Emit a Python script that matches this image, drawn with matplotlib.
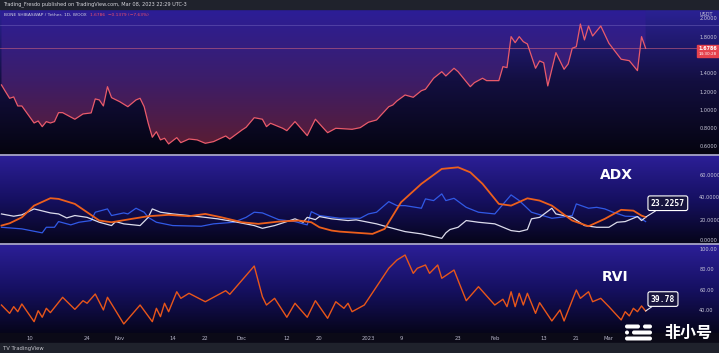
import numpy as np
import matplotlib
matplotlib.use("Agg")
import matplotlib.pyplot as plt
from matplotlib.colors import LinearSegmentedColormap
from matplotlib.patches import Rectangle, FancyBboxPatch
from matplotlib.transforms import blended_transform_factory

# x values are days counted from Oct 10 2022 (daily chart)
price_days = [-7, -6, -5, -4, -3, -2, -1, 1, 2, 3, 4, 5, 6, 7, 8,
              11, 13, 15, 16, 17, 18, 19, 20,
              22, 24, 26, 27, 28, 29, 30, 31, 32, 33, 34,
              36, 37, 39, 41, 43, 45, 48, 49,
              52, 53, 55, 57, 58, 59, 61, 62, 63,
              65, 67, 68, 70, 72, 73, 75, 79, 81, 83, 85,
              88, 89, 90, 92, 94, 96, 97, 99, 101, 102,
              104, 105, 106, 108, 109, 111, 112, 115, 116, 117,
              118, 119, 120, 121, 122, 124, 125, 126, 127, 129,
              131, 132, 133, 134, 135, 136, 137, 138, 140, 142,
              145, 147, 149, 150, 151]
price_vals = [1.278, 1.204, 1.132, 1.147, 1.048, 1.048, 0.986, 0.862, 0.884, 0.822, 0.877, 0.862, 0.877, 0.975, 0.975,
              0.903, 0.961, 0.972, 1.125, 1.114, 1.048, 1.259, 1.139,
              1.095, 1.040, 1.114, 1.132, 1.040, 0.859, 0.706, 0.767, 0.677, 0.695, 0.633,
              0.702, 0.647, 0.687, 0.677, 0.640, 0.658, 0.720, 0.687,
              0.786, 0.815, 0.920, 0.903, 0.822, 0.859, 0.822, 0.804, 0.778,
              0.877, 0.775, 0.724, 0.903, 0.804, 0.756, 0.804, 0.793, 0.811, 0.870, 0.895,
              1.040, 1.059, 1.103, 1.168, 1.143, 1.215, 1.231, 1.351, 1.423, 1.376,
              1.460, 1.423, 1.368, 1.259, 1.303, 1.351, 1.325, 1.325, 1.478, 1.467,
              1.806, 1.740, 1.806, 1.751, 1.726, 1.460, 1.540, 1.521, 1.267, 1.631,
              1.449, 1.507, 1.679, 1.696, 1.944, 1.770, 1.922, 1.813, 1.922, 1.733,
              1.559, 1.543, 1.434, 1.806, 1.6786]

adx_days = [-7, -5, -2, 1, 5, 7, 11, 14, 17, 20,
            25, 29, 34, 39, 43, 47, 52, 56, 61, 66,
            69, 71, 74, 76, 84, 87, 91, 96, 101, 105,
            108, 111, 115, 118, 122, 125, 128, 133, 137, 141,
            145, 148, 150, 151]
adx_vals = [15.8, 17.8, 23.0, 33.3, 39.8, 39.2, 34.8, 27.5, 20.2, 18.7,
            21.7, 24.0, 25.2, 24.0, 26.0, 23.0, 18.7, 17.3, 19.3, 20.2,
            18.7, 14.3, 11.4, 10.5, 8.5, 12.9, 36.2, 52.4, 65.5, 66.9,
            62.5, 52.4, 34.8, 33.3, 39.7, 37.7, 33.3, 20.2, 15.2, 21.7,
            29.6, 28.9, 24.5, 23.2]

plus_di_days = [-7, -2, 3, 4, 6, 7, 10, 12, 15, 16,
                19, 20, 23, 24, 26, 28, 29, 31, 35, 42,
                45, 50, 53, 55, 57, 61, 65, 67, 68, 69,
                71, 76, 81, 83, 85, 88, 90, 92, 96, 97,
                99, 101, 102, 104, 107, 110, 114, 118, 120, 123,
                128, 130, 133, 134, 137, 139, 141, 143, 146, 149,
                151]
plus_di_vals = [14.3, 12.9, 9.4, 14.3, 14.3, 19.3, 16.4, 18.7, 20.2, 27.5,
                30.4, 24.6, 26.9, 26.0, 31.0, 27.5, 23.0, 18.7, 15.8, 15.2,
                17.3, 18.7, 23.0, 27.5, 26.9, 21.0, 19.3, 17.3, 16.4, 28.0,
                24.6, 22.2, 22.2, 26.0, 27.5, 36.8, 33.3, 33.3, 31.0, 39.2,
                37.7, 43.6, 37.7, 39.7, 31.8, 27.5, 26.0, 42.7, 37.7, 27.5,
                22.2, 23.0, 24.6, 34.8, 31.0, 31.8, 30.4, 27.5, 24.0, 23.7,
                19.3]

minus_di_days = [-7, -4, -2, 1, 5, 7, 9, 11, 14, 17,
                 20, 21, 23, 27, 29, 30, 32, 35, 39, 43,
                 46, 50, 55, 57, 60, 63, 65, 67, 68, 70,
                 71, 74, 78, 80, 85, 88, 92, 96, 101, 102,
                 103, 105, 107, 110, 114, 118, 120, 122, 123, 125,
                 128, 129, 133, 136, 139, 142, 144, 146, 149, 150,
                 151]
minus_di_vals = [26.0, 24.0, 25.2, 30.4, 26.9, 26.0, 22.5, 24.6, 23.0, 18.7,
                 15.8, 19.3, 17.3, 15.8, 23.0, 30.4, 27.5, 26.0, 24.6, 23.0,
                 21.7, 19.3, 15.8, 13.4, 15.8, 19.3, 21.7, 18.7, 23.0, 21.0,
                 23.7, 21.7, 20.2, 20.8, 17.3, 14.3, 10.5, 8.5, 4.6, 9.4,
                 12.3, 14.3, 20.2, 18.7, 17.3, 11.4, 10.5, 12.3, 21.7, 23.0,
                 31.0, 26.0, 23.0, 15.8, 14.3, 14.3, 18.7, 19.3, 23.7, 20.2,
                 23.0]

rvi_days = [-7, -5, -4, -3, -2, 1, 2, 3, 4, 5,
            8, 11, 13, 14, 16, 18, 19, 23, 27, 30,
            31, 32, 33, 34, 36, 37, 39, 43, 48, 49,
            55, 57, 58, 60, 63, 65, 68, 70, 73, 75,
            77, 78, 79, 82, 88, 90, 92, 94, 95, 97,
            98, 100, 101, 104, 107, 110, 114, 116, 117, 118,
            119, 120, 121, 122, 124, 125, 128, 130, 131, 134,
            135, 137, 138, 140, 142, 145, 146, 147, 148, 149,
            150, 151]
rvi_vals = [45.6, 37.5, 44.0, 39.1, 46.6, 29.4, 40.1, 33.7, 42.4, 38.2,
            53.1, 41.4, 49.8, 47.3, 56.3, 40.8, 53.1, 27.2, 45.6, 29.4,
            42.4, 34.3, 47.3, 39.1, 58.5, 52.1, 57.0, 48.8, 59.5, 56.0,
            83.5, 53.7, 45.6, 52.1, 33.7, 47.3, 33.7, 49.8, 32.7, 48.8,
            42.4, 47.3, 39.1, 45.6, 81.3, 89.3, 94.2, 76.4, 81.3, 84.5,
            76.4, 84.5, 71.6, 79.6, 49.8, 63.4, 45.6, 51.2, 44.0, 58.5,
            44.0, 57.0, 45.6, 57.0, 37.5, 47.9, 30.1, 40.8, 30.1, 60.2,
            52.1, 58.5, 48.8, 52.1, 44.0, 31.1, 39.1, 35.0, 42.4, 39.1,
            44.7, 39.78]

tick_days = [0, 14, 22, 35, 43, 52, 63, 71, 83, 91, 105, 114, 126, 134, 142]
tick_labels = ["10", "24", "Nov", "14", "22", "Dec", "12", "20", "2023",
               "9", "23", "Feb", "13", "21", "Mar"]

price_ticks = [0.6, 0.8, 1.0, 1.2, 1.4, 1.8, 2.0]
adx_ticks = [0, 20, 40, 60]
rvi_ticks = [40, 60, 80, 100]
last_price = 1.6786
day_high = 1.933
adx_last = 23.2257
rvi_last = 39.78

W, H = 719, 353
XLIM = (-7.36, 169.0)

fig = plt.figure(figsize=(W / 100, H / 100), dpi=100, facecolor="#0b0a17")


def panel(top, bottom):
    ax = fig.add_axes([0, 1 - bottom / H, 1, (bottom - top) / H])
    ax.set_facecolor("none")
    for s in ax.spines.values():
        s.set_visible(False)
    ax.set_xticks([])
    ax.set_yticks([])
    return ax


def gradient(ax, colors, extent=(0, 1, 0, 1), transform=None, zorder=0):
    cmap = LinearSegmentedColormap.from_list("g", colors)
    grad = np.linspace(0, 1, 256).reshape(-1, 1)
    kw = {}
    if transform is not None:
        kw["transform"] = transform
    return ax.imshow(grad, cmap=cmap, aspect="auto", extent=extent,
                     origin="lower", zorder=zorder, interpolation="bicubic", **kw)


def right_labels(ax, ticks, fmt):
    tr = blended_transform_factory(ax.transAxes, ax.transData)
    for t in ticks:
        ax.text(0.9725, t, fmt.format(t), transform=tr, ha="left", va="center",
                fontsize=3.6, color="#c9c8da")


# ---- price panel
ax_p = panel(9, 154)
gradient(ax_p, ["#050410", "#130f40", "#2b2296"], transform=ax_p.transAxes)
ylo, yhi = 0.523, 2.108
above = ax_p.fill_between(price_days, price_vals, yhi, facecolor="none", edgecolor="none")
im = gradient(ax_p, ["#5e1c2c", "#3d1d68", "#2b1e98"], extent=(XLIM[0], XLIM[1], ylo, yhi), zorder=1)
im.set_clip_path(above.get_paths()[0], transform=ax_p.transData)
ax_p.plot(price_days, price_vals, color="#ea5b6b", lw=0.9, zorder=3)
ax_p.axhline(last_price, color="#c8607e", lw=0.6, alpha=0.7, zorder=2)
ax_p.axhline(day_high, color="#8c7fd0", lw=0.5, alpha=0.5, zorder=2)
ax_p.set_xlim(XLIM)
ax_p.set_ylim(ylo, yhi)
right_labels(ax_p, price_ticks, "{:.4f}")

# ---- ADX panel
ax_a = panel(155, 243)
gradient(ax_a, ["#06051a", "#161062", "#2c1f98"], transform=ax_a.transAxes)
ax_a.plot(plus_di_days, plus_di_vals, color="#3159e6", lw=0.9, zorder=2)
ax_a.plot(minus_di_days, minus_di_vals, color="#dcdcec", lw=0.9, zorder=3)
ax_a.plot(adx_days, adx_vals, color="#ec5f1c", lw=1.3, zorder=4)
ax_a.set_xlim(XLIM)
ax_a.set_ylim(0.5, 77.7)
right_labels(ax_a, adx_ticks[1:], "{:.4f}")
ax_a.text(0.9725, 0.6, "0.0000", ha="left", va="bottom", fontsize=3.6, color="#c9c8da",
          transform=blended_transform_factory(ax_a.transAxes, ax_a.transData))
ax_a.text(0.858, 0.77, "ADX", transform=ax_a.transAxes, ha="center", va="center",
          fontsize=10, fontweight="bold", color="white")
ax_a.annotate(f"{adx_last:.4f}", xy=(adx_days[-1], adx_vals[-1]), xytext=(16, 10),
              textcoords="offset points", ha="center", va="center", fontsize=5.8,
              fontweight="bold", family="DejaVu Sans Mono", color="white", zorder=6,
              bbox=dict(boxstyle="round,pad=0.35,rounding_size=0.25", fc="#17143e", ec="white", lw=0.8),
              arrowprops=dict(arrowstyle="-", color="#e6e6f2", lw=0.8, shrinkA=0, shrinkB=0))

# ---- RVI panel
ax_r = panel(244, 333)
gradient(ax_r, ["#06051a", "#161062", "#2c1f98"], transform=ax_r.transAxes)
ax_r.plot(rvi_days, rvi_vals, color="#e8561a", lw=1.0, zorder=3)
ax_r.set_xlim(XLIM)
ax_r.set_ylim(18.4, 104.9)
right_labels(ax_r, rvi_ticks, "{:.2f}")
ax_r.text(0.855, 0.625, "RVI", transform=ax_r.transAxes, ha="center", va="center",
          fontsize=10, fontweight="bold", color="white")
ax_r.annotate(f"{rvi_last:.2f}", xy=(rvi_days[-1], rvi_vals[-1]), xytext=(12.5, 8.6),
              textcoords="offset points", ha="center", va="center", fontsize=5.8,
              fontweight="bold", family="DejaVu Sans Mono", color="white", zorder=6,
              bbox=dict(boxstyle="round,pad=0.35,rounding_size=0.25", fc="#17143e", ec="white", lw=0.8),
              arrowprops=dict(arrowstyle="-", color="#e6e6f2", lw=0.8, shrinkA=0, shrinkB=0))
ax_r.set_xticks(tick_days, tick_labels)
ax_r.tick_params(axis="x", length=0, pad=2.5, labelsize=3.8, labelcolor="#b4b3c6")

# ---- overlay in pixel coordinates: bars, separators, tags, watermark
ov = fig.add_axes([0, 0, 1, 1], zorder=10)
ov.set_xlim(0, W)
ov.set_ylim(H, 0)
ov.axis("off")
ov.set_facecolor("none")

ov.add_patch(Rectangle((0, 0), W, 9, color="#1f222c"))
ov.text(3, 4.6, "Trading_Fresdo published on TradingView.com, Mar 08, 2023 22:29 UTC-3",
        fontsize=3.6, color="#d6d6dc", va="center")
ov.add_patch(Rectangle((0, 343), W, 10, color="#1f222c"))
ov.text(3, 348.5, "TV TradingView", fontsize=3.8, color="#c8c8d0", va="center")

ov.text(4, 14.5, "BONE SHIBASWAP / Tether, 1D, WOOX", fontsize=3.2, color="#cfcfe0", va="center")
ov.text(90, 14.5, "1.6786  \u22120.1379 (\u22127.63%)", fontsize=3.2, color="#f0506a", va="center")
ov.text(700, 14.5, "USDT", fontsize=3.6, color="#c9c8da", va="center")

ov.plot([0, W], [154.5, 154.5], color="#a7a5c6", lw=1.3)
ov.plot([0, W], [243.6, 243.6], color="#a7a5c6", lw=1.3)

ov.add_patch(Rectangle((697, 45), 22, 12, color="#e5424d"))
ov.text(708, 48.3, "1.6786", fontsize=3.5, color="white", ha="center", va="center", fontweight="bold")
ov.text(708, 54, "14:30:28", fontsize=3.0, color="white", ha="center", va="center")

# watermark logo
for x0, x1, yb in [(625, 640, 324.5), (643, 652, 324.5), (625, 629, 330.5),
                   (632, 652, 330.5), (625, 652, 336.5)]:
    ov.add_patch(FancyBboxPatch((x0, yb), x1 - x0, 4, boxstyle="round,pad=0,rounding_size=2",
                                fc="white", ec="none"))
ov.text(688, 332.5, "非小号", fontsize=11.5, family=["Noto Sans CJK SC", "DejaVu Sans"],
        fontweight="bold", color="white", ha="center", va="center")

fig.savefig("out.png", dpi=100, facecolor=fig.get_facecolor())
